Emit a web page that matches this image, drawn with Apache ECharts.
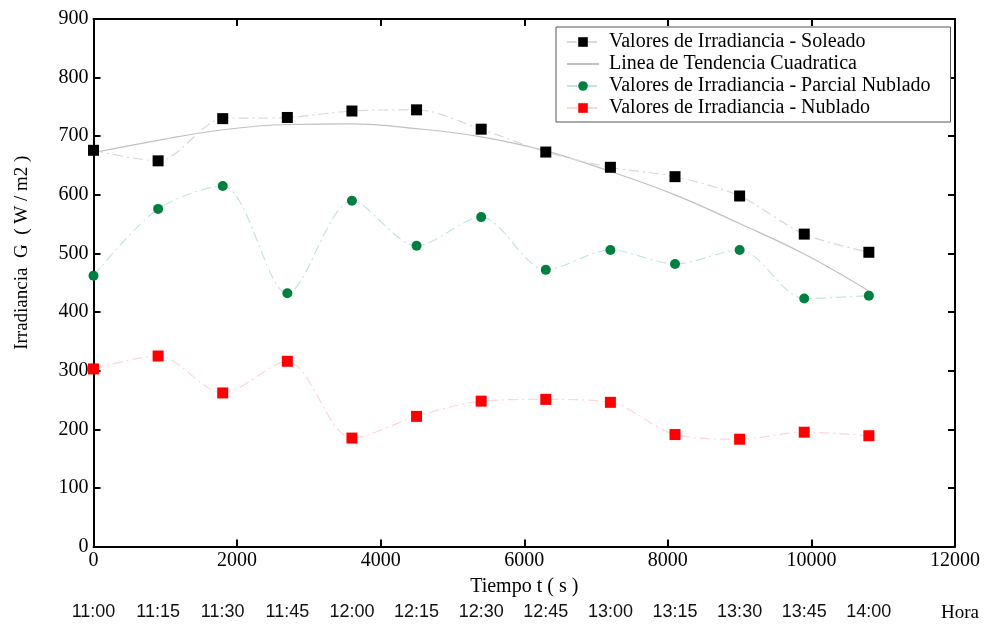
<!DOCTYPE html>
<html><head><meta charset="utf-8">
<script src="https://cdn.jsdelivr.net/npm/echarts@6/dist/echarts.min.js"></script>
<style>html,body{margin:0;padding:0;background:#fff}#c{width:985px;height:626px}</style>
</head><body><div id="c"></div>
<script>
const tiempo = [0, 900, 1800, 2700, 3600, 4500, 5400, 6300, 7200, 8100, 9000, 9900, 10800];
const horas = ['11:00','11:15','11:30','11:45','12:00','12:15','12:30','12:45','13:00','13:15','13:30','13:45','14:00'];
const soleado = [676, 658, 730, 732, 743, 745, 712, 673, 647, 631, 598, 533, 502];
const tendencia = [672, 693, 711, 720, 721, 713, 699, 675, 640, 600, 551, 499, 436];
const parcial = [462, 576, 615, 432, 590, 513, 562, 472, 506, 482, 506, 423, 428];
const nublado = [303, 325, 262, 316, 185, 222, 248, 251, 246, 191, 183, 195, 189];
const yTicks = { min: 0, max: 900, interval: 100 };
const xTicks = { min: 0, max: 12000, interval: 2000 };

const pair = arr => tiempo.map((t, i) => [t, arr[i]]);
const FONT = 'Liberation Serif';
const chart = echarts.init(document.getElementById('c'), null, { renderer: 'canvas' });
const dashDot = [10, 4, 2, 4];
const plain = v => String(v);
chart.setOption({
  animation: false,
  backgroundColor: '#fff',
  textStyle: { fontFamily: FONT, color: '#000' },
  grid: { left: 93.5, right: 30, top: 19, bottom: 79.5 },
  legend: {
    left: 556, top: 27, orient: 'vertical',
    backgroundColor: '#fff', borderColor: '#555', borderWidth: 1,
    padding: [5, 20, 4, 10], itemGap: 2, itemWidth: 32, itemHeight: 12,
    textStyle: { fontFamily: FONT, fontSize: 20, color: '#000', padding: [0, 0, 0, 5] },
    data: ['Valores de Irradiancia - Soleado', 'Linea de Tendencia Cuadratica', 'Valores de Irradiancia - Parcial Nublado', 'Valores de Irradiancia - Nublado']
  },
  xAxis: [
    {
      type: 'value', position: 'bottom', min: xTicks.min, max: xTicks.max, interval: xTicks.interval,
      name: 'Tiempo t ( s )', nameLocation: 'middle', nameGap: 30,
      nameTextStyle: { fontFamily: FONT, fontSize: 20, color: '#000' },
      axisLine: { show: true, onZero: false, lineStyle: { color: '#000', width: 2 } },
      axisTick: { show: true, inside: true, length: 7, lineStyle: { color: '#000', width: 2 } },
      axisLabel: { fontFamily: FONT, fontSize: 20, color: '#000', margin: 4, formatter: plain },
      splitLine: { show: false }
    },
    {
      type: 'value', position: 'bottom', offset: 52, min: xTicks.min, max: xTicks.max, interval: 300,
      axisLine: { show: false }, axisTick: { show: false }, splitLine: { show: false },
      axisLabel: {
        margin: 5, fontFamily: 'Liberation Sans', fontSize: 18, color: '#111',
        formatter: function (v) {
          const i = tiempo.indexOf(Math.round(v));
          if (i >= 0) return horas[i];
          if (Math.round(v) === 12000) return '{h|Hora}';
          return '';
        },
        rich: { h: { fontFamily: FONT, fontSize: 19, color: '#000', padding: [0, 0, 0, 10] } }
      }
    },
    {
      type: 'value', position: 'top', min: xTicks.min, max: xTicks.max, interval: xTicks.interval,
      axisLine: { show: true, onZero: false, lineStyle: { color: '#000', width: 2 } },
      axisTick: { show: true, inside: true, length: 7, lineStyle: { color: '#000', width: 2 } },
      axisLabel: { show: false }, splitLine: { show: false }
    }
  ],
  yAxis: [
    {
      type: 'value', position: 'left', min: yTicks.min, max: yTicks.max, interval: yTicks.interval,
      name: 'Irradiancia  G  ( W / m2 )', nameLocation: 'middle', nameGap: 62,
      nameTextStyle: { fontFamily: FONT, fontSize: 19, color: '#000', padding: [0, 0, 0, 60] },
      axisLine: { show: true, onZero: false, lineStyle: { color: '#000', width: 2 } },
      axisTick: { show: true, inside: true, length: 7, lineStyle: { color: '#000', width: 2 } },
      axisLabel: { fontFamily: FONT, fontSize: 20, color: '#000', margin: 5, formatter: plain },
      splitLine: { show: false }
    },
    {
      type: 'value', position: 'right', min: yTicks.min, max: yTicks.max, interval: yTicks.interval,
      axisLine: { show: true, onZero: false, lineStyle: { color: '#000', width: 2 } },
      axisTick: { show: true, inside: true, length: 7, lineStyle: { color: '#000', width: 2 } },
      axisLabel: { show: false }, splitLine: { show: false }
    }
  ],
  series: [
    {
      name: 'Linea de Tendencia Cuadratica', type: 'line', data: pair(tendencia), smooth: 0.4,
      symbol: 'circle', showSymbol: false, symbolSize: 0,
      itemStyle: { color: 'rgba(0,0,0,0)', borderWidth: 0 },
      lineStyle: { color: '#c0c0c0', width: 1.2 }, z: 2
    },
    {
      name: 'Valores de Irradiancia - Soleado', type: 'line', data: pair(soleado), smooth: 0.3,
      symbol: 'rect', symbolSize: 11, itemStyle: { color: '#000' },
      lineStyle: { color: '#d8d8d8', width: 1.2, type: dashDot }, z: 3
    },
    {
      name: 'Valores de Irradiancia - Parcial Nublado', type: 'line', data: pair(parcial), smooth: 0.3,
      symbol: 'circle', symbolSize: 10, itemStyle: { color: '#008040' },
      lineStyle: { color: '#c4e4e4', width: 1.2, type: dashDot }, z: 3
    },
    {
      name: 'Valores de Irradiancia - Nublado', type: 'line', data: pair(nublado), smooth: 0.3,
      symbol: 'rect', symbolSize: 11, itemStyle: { color: '#ff0000' },
      lineStyle: { color: '#fdd6d6', width: 1.2, type: dashDot }, z: 3
    }
  ]
});
</script></body></html>
